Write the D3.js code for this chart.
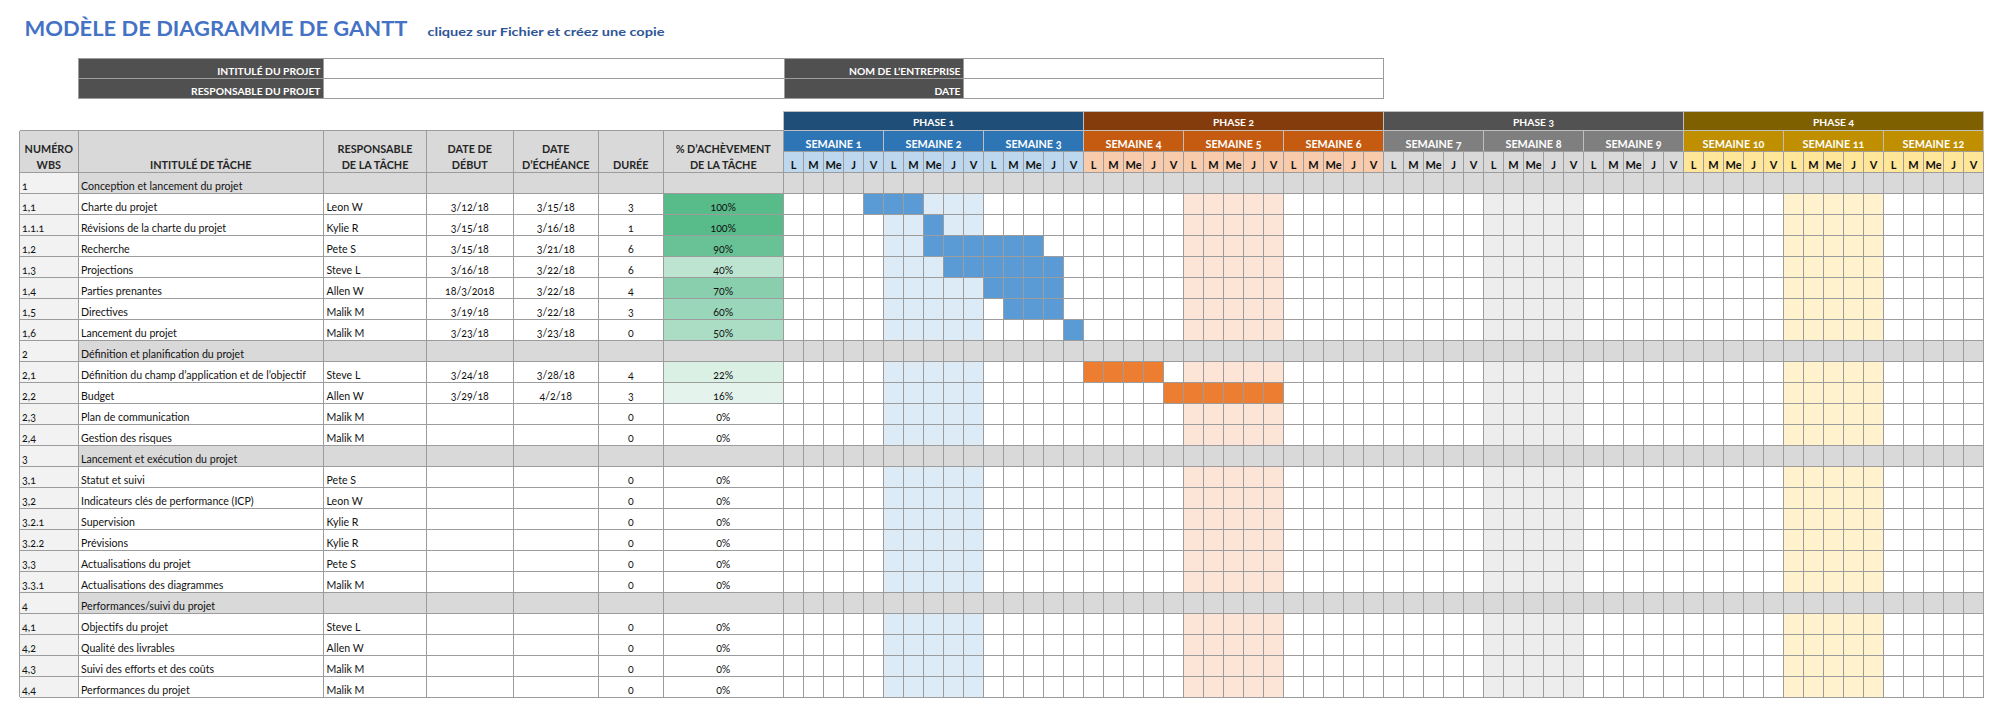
<!DOCTYPE html>
<html>
<head>
<meta charset="utf-8">
<script src="https://cdn.jsdelivr.net/npm/d3@7"></script>
<style>
  html, body { margin: 0; background: #fff; }
  svg { display: block; font-family: Lato, "Noto Sans", sans-serif; font-variant-numeric: oldstyle-nums; }
</style>
</head>
<body>
<div id="chart"></div>
<script>
const phases   = ["PHASE 1", "PHASE 2", "PHASE 3", "PHASE 4"];
const weeks    = ["SEMAINE 1","SEMAINE 2","SEMAINE 3","SEMAINE 4","SEMAINE 5","SEMAINE 6",
                  "SEMAINE 7","SEMAINE 8","SEMAINE 9","SEMAINE 10","SEMAINE 11","SEMAINE 12"];
const dayNames = ["L", "M", "Me", "J", "V"];
const shadedWeeks = [1, 4, 7, 10];   // semaines 2, 5, 8, 11

const headers = [
  ["NUMÉRO", "WBS"], ["INTITULÉ DE TÂCHE"], ["RESPONSABLE", "DE LA TÂCHE"],
  ["DATE DE", "DÉBUT"], ["DATE", "D’ÉCHÉANCE"], ["DURÉE"], ["% D’ACHÈVEMENT", "DE LA TÂCHE"]
];
const infoLabels = [["INTITULÉ DU PROJET", "RESPONSABLE DU PROJET"], ["NOM DE L’ENTREPRISE", "DATE"]];

const wbs = ["1","1,1","1.1.1","1,2","1,3","1,4","1,5","1,6",
             "2","2,1","2,2","2,3","2,4",
             "3","3,1","3,2","3.2.1","3.2.2","3,3","3.3.1",
             "4","4,1","4,2","4,3","4,4"];
const tasks = ["Conception et lancement du projet","Charte du projet","Révisions de la charte du projet",
  "Recherche","Projections","Parties prenantes","Directives","Lancement du projet",
  "Définition et planification du projet","Définition du champ d’application et de l’objectif","Budget",
  "Plan de communication","Gestion des risques",
  "Lancement et exécution du projet","Statut et suivi","Indicateurs clés de performance (ICP)","Supervision",
  "Prévisions","Actualisations du projet","Actualisations des diagrammes",
  "Performances/suivi du projet","Objectifs du projet","Qualité des livrables",
  "Suivi des efforts et des coûts","Performances du projet"];
const owners = ["","Leon W","Kylie R","Pete S","Steve L","Allen W","Malik M","Malik M",
  "","Steve L","Allen W","Malik M","Malik M",
  "","Pete S","Leon W","Kylie R","Kylie R","Pete S","Malik M",
  "","Steve L","Allen W","Malik M","Malik M"];
const startDates = ["","3/12/18","3/15/18","3/15/18","3/16/18","18/3/2018","3/19/18","3/23/18",
  "","3/24/18","3/29/18","","", "","","","","","","", "","","","",""];
const endDates = ["","3/15/18","3/16/18","3/21/18","3/22/18","3/22/18","3/22/18","3/23/18",
  "","3/28/18","4/2/18","","", "","","","","","","", "","","","",""];
const durations = [null,3,1,6,6,4,3,0, null,4,3,0,0, null,0,0,0,0,0,0, null,0,0,0,0];
const completion = [null,1,1,0.9,0.4,0.7,0.6,0.5, null,0.22,0.16,0,0, null,0,0,0,0,0,0, null,0,0,0,0];
// barres du planning : premier jour (index 0 = L semaine 1) et nombre de jours colorés
const barStart = [null,4,7,7,8,10,11,14, null,15,19,null,null, null,null,null,null,null,null,null, null,null,null,null,null];
const barDays  = [null,3,1,6,6,4,3,1, null,4,6,null,null, null,null,null,null,null,null,null, null,null,null,null,null];

// ---- styles ----
const phaseDark  = ["#1f4e79", "#843c0c", "#525252", "#7f6000"];
const phaseMid   = ["#2e75b6", "#c55a11", "#7f7f7f", "#bf8f00"];
const phaseDay   = ["#bdd7ee", "#f8cbad", "#d9d9d9", "#ffe699"];
const phaseLight = ["#ddebf7", "#fce4d6", "#ededed", "#fff2cc"];
const phaseBar   = ["#5b9bd5", "#ed7d31", "#a5a5a5", "#ffc000"];
const GRID = "#9c9c9c";

const W = 2001, H = 716;
const cols = [19.5, 78, 323.5, 426.5, 513, 598.5, 663, 783.5];
const nDays = weeks.length * dayNames.length;
const x = d3.scaleLinear().domain([0, nDays]).range([783.5, 1983.5]);
const y = d3.scaleBand().domain(d3.range(wbs.length)).range([172, 697]);
const isSection = i => !/[.,]/.test(wbs[i]);
const pctColor = d3.interpolateRgb("#ffffff", "#57bb8a");

const svg = d3.select("#chart").append("svg").attr("width", W).attr("height", H);
svg.append("rect").attr("width", W).attr("height", H).attr("fill", "#fff");

// titre
svg.append("text").attr("x", 24.5).attr("y", 35.7)
  .attr("font-size", 21).attr("font-weight", 700).attr("fill", "#4472c4")
  .attr("textLength", 383).attr("lengthAdjust", "spacingAndGlyphs")
  .text("MODÈLE DE DIAGRAMME DE GANTT");
svg.append("text").attr("x", 427.5).attr("y", 35.7)
  .attr("font-size", 12).attr("font-weight", 700).attr("fill", "#2f5597")
  .attr("textLength", 237).attr("lengthAdjust", "spacingAndGlyphs")
  .text("cliquez sur Fichier et créez une copie");

// tableau d'informations projet
const info = svg.append("g").attr("shape-rendering", "crispEdges");
const infoCols = [[78, 323.5, 784], [784, 963.5, 1383]];
const infoRows = [58.5, 78.5, 98.5];
infoCols.forEach((c, k) => {
  infoLabels[k].forEach((lab, r) => {
    info.append("rect").attr("x", c[0]).attr("y", infoRows[r]).attr("width", c[1] - c[0])
      .attr("height", infoRows[r + 1] - infoRows[r]).attr("fill", "#505050").attr("stroke", GRID);
    info.append("rect").attr("x", c[1]).attr("y", infoRows[r]).attr("width", c[2] - c[1])
      .attr("height", infoRows[r + 1] - infoRows[r]).attr("fill", "#fff").attr("stroke", GRID);
    info.append("text").attr("x", c[1] - 3).attr("y", infoRows[r + 1] - 3.5)
      .attr("text-anchor", "end").attr("font-size", 10.3).attr("font-weight", 700).attr("fill", "#fff")
      .text(lab);
  });
});

// en-tête du tableau des tâches
const head = svg.append("g");
head.append("rect").attr("x", cols[0]).attr("y", 130.7).attr("width", cols[7] - cols[0])
  .attr("height", 172 - 130.7).attr("fill", "#d9d9d9");
headers.forEach((lines, k) => {
  const cx = (cols[k] + cols[k + 1]) / 2;
  lines.forEach((t, j) => {
    head.append("text").attr("x", cx).attr("y", 169 - (lines.length - 1 - j) * 15.7)
      .attr("text-anchor", "middle").attr("font-size", 10.8).attr("font-weight", 700)
      .attr("fill", "#262626").text(t);
  });
});

// corps : fonds des cellules
const body = svg.append("g").attr("shape-rendering", "crispEdges");
const rows = d3.range(wbs.length);
body.selectAll("rect.wbs").data(rows).join("rect").attr("class", "wbs")
  .attr("x", cols[0]).attr("y", i => y(i)).attr("width", cols[1] - cols[0]).attr("height", y.bandwidth())
  .attr("fill", "#f2f2f2");
body.selectAll("rect.sec").data(rows.filter(isSection)).join("rect").attr("class", "sec")
  .attr("x", cols[1]).attr("y", i => y(i)).attr("width", x(nDays) - cols[1]).attr("height", y.bandwidth())
  .attr("fill", "#d9d9d9");
body.selectAll("rect.pct").data(rows.filter(i => completion[i] > 0)).join("rect").attr("class", "pct")
  .attr("x", cols[6]).attr("y", i => y(i)).attr("width", cols[7] - cols[6]).attr("height", y.bandwidth())
  .attr("fill", i => pctColor(completion[i]));

// colonnes de semaines ombrées
const taskRows = rows.filter(i => !isSection(i));
shadedWeeks.forEach(w => {
  const ph = Math.floor(w / 3);
  body.selectAll(null).data(taskRows).join("rect")
    .attr("x", x(w * 5)).attr("y", i => y(i)).attr("width", x(w * 5 + 5) - x(w * 5))
    .attr("height", y.bandwidth()).attr("fill", phaseLight[ph]);
});

// barres du planning
body.selectAll("rect.bar").data(rows.filter(i => barStart[i] != null)).join("rect").attr("class", "bar")
  .attr("x", i => x(barStart[i])).attr("y", i => y(i))
  .attr("width", i => x(barStart[i] + barDays[i]) - x(barStart[i])).attr("height", y.bandwidth())
  .attr("fill", i => phaseBar[Math.floor(barStart[i] / 15)]);

// en-tête du planning : phases, semaines, jours
const gh = svg.append("g").attr("shape-rendering", "crispEdges");
gh.selectAll("rect.ph").data(phases).join("rect").attr("class", "ph")
  .attr("x", (d, k) => x(k * 15)).attr("y", 111).attr("width", x(15) - x(0)).attr("height", 19.7)
  .attr("fill", (d, k) => phaseDark[k]).attr("stroke", "#bfbfbf");
gh.selectAll("rect.wk").data(weeks).join("rect").attr("class", "wk")
  .attr("x", (d, k) => x(k * 5)).attr("y", 130.7).attr("width", x(5) - x(0)).attr("height", 20.8)
  .attr("fill", (d, k) => phaseMid[Math.floor(k / 3)]).attr("stroke", "#bfbfbf");
const days = d3.range(nDays);
gh.selectAll("rect.day").data(days).join("rect").attr("class", "day")
  .attr("x", d => x(d)).attr("y", 151.5).attr("width", x(1) - x(0)).attr("height", 20.5)
  .attr("fill", d => phaseDay[Math.floor(d / 15)]).attr("stroke", GRID);

const gt = svg.append("g").attr("font-weight", 700).attr("text-anchor", "middle");
gt.selectAll("text.ph").data(phases).join("text").attr("class", "ph")
  .attr("x", (d, k) => x(k * 15 + 7.5)).attr("y", 125.5).attr("font-size", 10.3).attr("fill", "#fff").text(d => d);
gt.selectAll("text.wk").data(weeks).join("text").attr("class", "wk")
  .attr("x", (d, k) => x(k * 5 + 2.5)).attr("y", 147.5).attr("font-size", 10.8).attr("fill", "#fff").text(d => d);
gt.selectAll("text.day").data(days).join("text").attr("class", "day")
  .attr("x", d => x(d + 0.5)).attr("y", 168.8).attr("font-size", 11).attr("fill", "#111")
  .text(d => dayNames[d % 5]);

// quadrillage
const grid = svg.append("g").attr("stroke", GRID).attr("stroke-width", 1).attr("shape-rendering", "crispEdges");
grid.selectAll("line.h").data(d3.range(wbs.length + 1)).join("line").attr("class", "h")
  .attr("x1", cols[0]).attr("x2", x(nDays))
  .attr("y1", i => i < wbs.length ? y(i) : y.range()[1]).attr("y2", i => i < wbs.length ? y(i) : y.range()[1]);
grid.selectAll("line.c").data(cols).join("line").attr("class", "c")
  .attr("x1", d => d).attr("x2", d => d).attr("y1", 130.7).attr("y2", 697);
grid.selectAll("line.d").data(d3.range(nDays + 1)).join("line").attr("class", "d")
  .attr("x1", d => x(d)).attr("x2", d => x(d)).attr("y1", 172).attr("y2", 697);
grid.append("line").attr("x1", cols[0]).attr("x2", cols[7]).attr("y1", 130.7).attr("y2", 130.7);

// textes des lignes
const txt = svg.append("g").attr("font-size", 10.6).attr("fill", "#111");
const base = i => y(i) + y.bandwidth() - 3.4;
txt.selectAll("text.wbs").data(rows).join("text").attr("class", "wbs")
  .attr("x", cols[0] + 2.5).attr("y", base).text(i => wbs[i]);
txt.selectAll("text.task").data(rows).join("text").attr("class", "task")
  .attr("x", cols[1] + 3).attr("y", base).text(i => tasks[i]);
txt.selectAll("text.own").data(rows).join("text").attr("class", "own")
  .attr("x", cols[2] + 3).attr("y", base).text(i => owners[i]);
const centred = [[3, startDates], [4, endDates]];
centred.forEach(([c, arr]) => {
  txt.selectAll(null).data(rows).join("text").attr("text-anchor", "middle")
    .attr("x", (cols[c] + cols[c + 1]) / 2).attr("y", base).text(i => arr[i]);
});
txt.selectAll("text.dur").data(rows.filter(i => durations[i] != null)).join("text").attr("class", "dur")
  .attr("text-anchor", "middle").attr("x", (cols[5] + cols[6]) / 2).attr("y", base).text(i => durations[i]);
txt.selectAll("text.pct").data(rows.filter(i => completion[i] != null)).join("text").attr("class", "pct")
  .attr("text-anchor", "middle").attr("x", (cols[6] + cols[7]) / 2).attr("y", base)
  .text(i => Math.round(completion[i] * 100) + "%");
</script>
</body>
</html>
